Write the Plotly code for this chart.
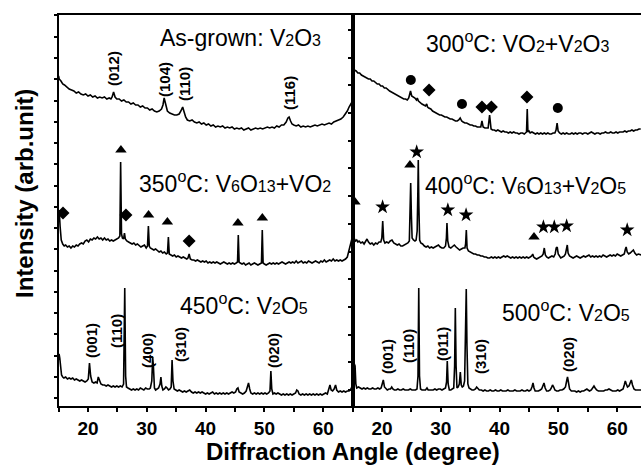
import plotly.graph_objects as go

# ---------------- data (2theta in degrees, intensity in arb. units) ----------------
asgrown = [(15.0,330),(15.1,327),(15.4,325),(15.7,322),(16.0,321),(16.4,319),(16.8,317),(17.2,316),(17.6,315),(18.0,313),(18.4,314),(18.8,312),(19.2,311),(19.6,312),(20.0,310),(20.4,311),(20.8,309),(21.2,310),(21.6,308),(22.0,309),(22.4,308),(22.8,309),(23.2,307),(23.6,308),(23.9,307),(24.1,309),(24.35,314),(24.6,309),(24.9,307),(25.3,307),(25.7,305),(26.1,306),(26.5,304),(26.9,304),(27.3,302),(27.7,303),(28.1,301),(28.5,301),(28.9,299),(29.3,300),(29.7,298),(30.1,298),(30.5,296),(30.9,297),(31.3,295),(31.7,294),(32.1,295),(32.5,297),(32.75,301),(32.95,308),(33.2,301),(33.5,295),(33.9,293),(34.3,292),(34.7,291),(35.1,291),(35.5,292),(35.8,295),(36.1,299),(36.3,295),(36.6,289),(36.9,286),(37.3,285),(37.7,286),(38.1,284),(38.5,283),(38.9,284),(39.3,282),(39.7,283),(40.1,281),(40.5,282),(40.9,280),(41.3,281),(41.7,279),(42.1,280),(42.5,279),(42.9,280),(43.3,278),(43.7,279),(44.1,278),(44.5,279),(44.9,277),(45.3,278),(45.7,277),(46.1,278),(46.5,276),(46.9,277),(47.3,278),(47.7,276),(48.1,277),(48.5,278),(48.9,277),(49.3,278),(49.7,277),(50.1,278),(50.5,279),(50.9,278),(51.3,279),(51.7,278),(52.1,280),(52.5,279),(52.9,281),(53.3,281),(53.7,284),(54.0,288),(54.2,289),(54.45,285),(54.7,282),(55.0,281),(55.4,280),(55.8,281),(56.2,279),(56.6,280),(57.0,279),(57.4,280),(57.8,279),(58.2,280),(58.6,281),(59.0,280),(59.4,281),(59.8,282),(60.2,281),(60.6,282),(61.0,283),(61.4,282),(61.8,284),(62.2,285),(62.6,286),(63.0,287),(63.4,289),(63.8,292),(64.1,295),(64.4,299),(64.7,302),(65.0,305)]

t300 = [(15.0,341),(15.05,338),(15.3,336),(15.6,335),(15.9,333),(16.2,333),(16.5,331),(16.8,330),(17.1,329),(17.4,328),(17.7,327),(18.0,327),(18.3,325),(18.6,325),(18.9,323),(19.2,322),(19.5,322),(19.8,320),(20.1,320),(20.4,318),(20.7,318),(21.0,316),(21.3,315),(21.6,314),(21.9,313),(22.2,312),(22.5,311),(22.8,310),(23.1,309),(23.4,308),(23.7,307),(24.0,307),(24.3,306),(24.55,308),(24.85,315),(25.05,310),(25.3,309),(25.6,308),(25.85,306),(26.0,308),(26.2,305),(26.5,303),(26.8,302),(27.1,301),(27.4,300),(27.6,302),(27.75,299),(27.95,298),(28.3,297),(28.6,295),(28.9,294),(29.2,293),(29.5,292),(29.8,291),(30.1,291),(30.4,290),(30.7,289),(31.0,289),(31.3,288),(31.6,287),(31.9,287),(32.2,286),(32.5,285),(32.8,285),(33.05,286),(33.3,288),(33.55,285),(33.8,284),(34.1,283),(34.4,283),(34.7,282),(35.0,281),(35.3,281),(35.6,280),(35.9,280),(36.2,279),(36.5,279),(36.8,279),(37.0,285),(37.2,279),(37.5,278),(37.8,278),(38.05,278),(38.3,291),(38.55,277),(38.8,276),(39.1,276),(39.4,275),(39.7,276),(40.0,275),(40.3,274),(40.6,275),(40.9,274),(41.2,274),(41.5,273),(41.8,274),(42.1,273),(42.4,274),(42.7,273),(43.0,273),(43.3,272),(43.6,273),(43.9,273),(44.2,272),(44.5,273),(44.58,274),(44.7,297),(44.82,274),(45.0,275),(45.2,273),(45.5,274),(45.8,273),(46.1,272),(46.4,273),(46.7,272),(47.0,273),(47.3,272),(47.6,273),(47.9,272),(48.2,273),(48.5,272),(48.8,272),(49.1,273),(49.4,273),(49.6,276),(49.78,283),(49.95,275),(50.2,273),(50.5,272),(50.8,273),(51.1,272),(51.4,273),(51.7,272),(52.0,272),(52.3,273),(52.6,272),(52.9,273),(53.2,272),(53.5,273),(53.8,273),(54.1,272),(54.4,273),(54.7,273),(55.0,272),(55.3,273),(55.6,274),(55.9,273),(56.2,272),(56.5,273),(56.8,273),(57.1,272),(57.4,273),(57.7,273),(58.0,274),(58.3,273),(58.6,273),(58.9,274),(59.2,273),(59.5,273),(59.8,274),(60.1,273),(60.4,274),(60.7,274),(61.0,274),(61.3,275),(61.6,274),(61.9,275),(62.2,275),(62.5,276),(62.8,275),(63.1,276),(63.4,276),(63.7,277),(64.0,277)]

t350 = [(15.0,192),(15.1,196),(15.25,180),(15.45,166),(15.7,162),(15.95,160),(16.2,161),(16.5,159),(16.8,160),(17.1,158),(17.4,160),(17.7,159),(18.0,161),(18.3,160),(18.6,162),(18.9,163),(19.2,162),(19.5,165),(19.8,166),(20.1,164),(20.4,167),(20.7,166),(21.0,168),(21.3,167),(21.6,169),(21.9,167),(22.2,168),(22.5,166),(22.8,168),(23.1,166),(23.4,167),(23.7,165),(24.0,166),(24.3,165),(24.6,166),(24.9,167),(25.2,168),(25.42,170),(25.55,244),(25.7,172),(25.85,168),(26.05,167),(26.2,173),(26.35,167),(26.6,165),(26.9,164),(27.2,163),(27.5,162),(27.8,163),(28.1,161),(28.4,162),(28.7,160),(29.0,159),(29.3,160),(29.6,161),(29.9,158),(30.12,160),(30.27,180),(30.42,160),(30.6,158),(30.9,157),(31.2,156),(31.5,157),(31.8,155),(32.1,154),(32.4,155),(32.7,153),(33.0,154),(33.3,152),(33.52,153),(33.67,169),(33.82,152),(34.1,151),(34.4,150),(34.7,151),(35.0,149),(35.3,150),(35.6,149),(35.9,148),(36.2,149),(36.5,148),(36.8,147),(37.0,148),(37.2,152),(37.4,147),(37.7,146),(38.0,146),(38.3,145),(38.6,146),(38.9,145),(39.2,144),(39.5,145),(39.8,144),(40.1,145),(40.4,143),(40.7,144),(41.0,143),(41.3,144),(41.6,143),(41.9,144),(42.2,143),(42.5,142),(42.8,143),(43.1,144),(43.4,143),(43.7,142),(44.0,143),(44.3,142),(44.6,143),(44.9,142),(45.2,143),(45.43,144),(45.56,171),(45.7,144),(45.9,143),(46.2,142),(46.5,143),(46.8,141),(47.1,142),(47.4,143),(47.7,141),(48.0,142),(48.3,143),(48.6,142),(48.9,141),(49.2,142),(49.5,143),(49.64,176),(49.78,143),(50.0,142),(50.3,141),(50.6,142),(50.9,143),(51.2,142),(51.5,143),(51.8,142),(52.1,143),(52.4,142),(52.7,143),(53.0,144),(53.3,143),(53.6,142),(53.9,143),(54.2,144),(54.5,143),(54.8,144),(55.1,143),(55.4,145),(55.7,143),(56.0,144),(56.3,145),(56.6,143),(56.9,144),(57.2,143),(57.5,145),(57.8,144),(58.1,143),(58.4,144),(58.7,145),(59.0,144),(59.3,143),(59.6,145),(59.9,144),(60.2,146),(60.5,144),(60.8,145),(61.1,146),(61.4,145),(61.7,147),(62.0,145),(62.3,146),(62.6,145),(62.9,146),(63.2,145),(63.5,146),(63.8,147),(64.1,149),(64.35,155),(64.6,163),(64.85,168),(65.0,170)]

t400 = [(15.0,180),(15.05,188),(15.15,176),(15.3,167),(15.5,165),(15.7,166),(15.9,164),(16.1,165),(16.4,163),(16.7,164),(16.95,162),(17.2,165),(17.45,167),(17.7,164),(18.0,162),(18.3,163),(18.6,161),(18.9,163),(19.2,162),(19.5,164),(19.8,164),(19.97,168),(20.12,185),(20.28,166),(20.5,163),(20.8,164),(21.1,163),(21.4,165),(21.7,166),(22.0,163),(22.3,162),(22.6,161),(22.9,162),(23.2,160),(23.5,160),(23.8,161),(24.1,162),(24.4,163),(24.65,165),(24.78,195),(24.88,223),(25.0,190),(25.12,168),(25.35,166),(25.6,165),(25.8,166),(25.98,175),(26.1,215),(26.17,246),(26.27,200),(26.4,166),(26.6,163),(26.9,162),(27.2,160),(27.5,159),(27.8,160),(28.1,158),(28.4,159),(28.7,158),(29.0,159),(29.3,160),(29.6,161),(29.9,159),(30.2,158),(30.5,158),(30.8,160),(30.95,168),(31.05,183),(31.18,165),(31.4,159),(31.7,158),(32.0,160),(32.3,161),(32.6,159),(32.9,157),(33.2,156),(33.5,157),(33.8,158),(34.1,158),(34.22,162),(34.34,176),(34.47,158),(34.7,155),(35.0,154),(35.3,153),(35.6,152),(35.9,152),(36.2,151),(36.5,151),(36.8,150),(37.1,150),(37.4,149),(37.7,149),(38.0,148),(38.3,148),(38.6,149),(38.9,148),(39.2,149),(39.5,148),(39.8,149),(40.1,148),(40.4,149),(40.7,150),(41.0,149),(41.3,150),(41.6,149),(41.9,148),(42.2,149),(42.5,148),(42.8,149),(43.1,148),(43.4,149),(43.7,148),(44.0,149),(44.3,148),(44.6,149),(44.9,148),(45.2,149),(45.45,150),(45.63,152),(45.8,149),(46.0,148),(46.3,147),(46.6,148),(46.9,149),(47.2,150),(47.42,152),(47.6,158),(47.78,151),(48.0,149),(48.3,148),(48.6,149),(48.9,150),(49.2,149),(49.45,152),(49.63,158),(49.8,159),(49.97,152),(50.2,149),(50.4,148),(50.7,149),(51.0,150),(51.2,152),(51.4,160),(51.51,161),(51.65,153),(51.9,150),(52.2,149),(52.5,148),(52.8,149),(53.1,150),(53.4,149),(53.7,148),(54.0,149),(54.3,150),(54.6,149),(54.9,150),(55.2,151),(55.5,149),(55.8,150),(56.1,149),(56.4,150),(56.7,149),(57.0,150),(57.3,149),(57.6,151),(57.9,150),(58.2,149),(58.5,150),(58.8,151),(59.1,150),(59.4,151),(59.7,150),(60.0,152),(60.3,151),(60.6,150),(60.9,151),(61.2,152),(61.4,157),(61.52,159),(61.7,154),(61.95,152),(62.2,153),(62.5,155),(62.75,156),(63.0,153),(63.3,151),(63.6,152),(63.9,151),(64.1,151)]

t450 = [(15.0,46),(15.08,52),(15.2,48),(15.35,38),(15.5,31),(15.7,29),(15.9,28),(16.2,29),(16.5,27),(16.8,28),(17.1,27),(17.4,28),(17.7,26),(18.0,27),(18.3,26),(18.6,25),(18.9,26),(19.2,25),(19.5,24),(19.8,25),(20.05,27),(20.25,43),(20.45,30),(20.7,24),(21.0,23),(21.3,24),(21.55,23),(21.75,29),(21.95,25),(22.2,22),(22.5,21),(22.8,21),(23.1,20),(23.4,21),(23.7,20),(24.0,19),(24.3,20),(24.6,19),(24.9,20),(25.2,19),(25.5,20),(25.8,19),(26.05,22),(26.25,118),(26.4,30),(26.55,19),(26.8,18),(27.1,17),(27.4,16),(27.7,17),(28.0,16),(28.3,17),(28.6,16),(28.9,18),(29.2,17),(29.5,16),(29.8,18),(30.1,17),(30.4,17),(30.6,18),(30.85,25),(31.0,49),(31.12,40),(31.3,18),(31.5,16),(31.8,17),(32.0,18),(32.25,22),(32.4,29),(32.55,20),(32.75,16),(33.0,17),(33.25,19),(33.45,18),(33.7,16),(33.95,17),(34.15,19),(34.3,46),(34.45,25),(34.65,17),(34.9,16),(35.2,15),(35.5,16),(35.8,15),(36.1,14),(36.4,15),(36.7,14),(37.0,15),(37.3,16),(37.6,14),(37.9,13),(38.2,14),(38.5,13),(38.8,14),(39.1,13),(39.4,14),(39.7,13),(40.0,12),(40.3,13),(40.6,12),(40.9,13),(41.2,14),(41.5,12),(41.8,13),(42.1,12),(42.4,13),(42.7,12),(43.0,13),(43.3,12),(43.6,13),(43.9,12),(44.2,13),(44.5,14),(44.8,13),(45.1,14),(45.3,17),(45.5,18),(45.7,14),(46.0,13),(46.3,12),(46.6,13),(46.9,15),(47.1,19),(47.3,23),(47.5,17),(47.7,13),(48.0,12),(48.3,13),(48.6,12),(48.9,13),(49.2,12),(49.5,13),(49.8,12),(50.1,13),(50.4,12),(50.7,13),(50.95,15),(51.1,35),(51.25,17),(51.45,12),(51.7,13),(52.0,12),(52.3,13),(52.6,12),(52.9,11),(53.2,12),(53.5,11),(53.8,12),(54.1,11),(54.4,12),(54.7,11),(55.0,12),(55.3,13),(55.5,16),(55.7,15),(55.9,12),(56.2,11),(56.5,12),(56.8,11),(57.1,12),(57.4,11),(57.7,12),(58.0,11),(58.3,12),(58.6,11),(58.9,12),(59.2,11),(59.5,12),(59.8,11),(60.1,12),(60.4,13),(60.7,12),(60.95,16),(61.15,21),(61.35,16),(61.6,15),(61.85,17),(62.1,21),(62.3,16),(62.6,14),(62.9,15),(63.2,14),(63.5,15),(63.8,14),(64.1,15),(64.4,15),(64.7,17),(64.9,19),(65.0,20)]

t500 = [(15.0,20),(15.08,42),(15.15,44),(15.3,42),(15.42,40),(15.55,22),(15.7,18),(16.0,19),(16.3,18),(16.6,17),(16.9,18),(17.2,17),(17.5,18),(17.8,17),(18.1,17),(18.4,18),(18.7,17),(19.0,17),(19.3,18),(19.6,17),(19.85,18),(20.05,22),(20.22,26),(20.42,19),(20.65,17),(20.9,16),(21.2,17),(21.45,17),(21.65,19),(21.85,17),(22.1,16),(22.4,16),(22.7,17),(23.0,16),(23.3,16),(23.6,17),(23.9,16),(24.2,16),(24.5,16),(24.8,17),(25.1,16),(25.4,16),(25.7,16),(25.95,17),(26.12,30),(26.25,118),(26.38,30),(26.55,17),(26.8,16),(27.1,16),(27.4,16),(27.65,18),(27.85,16),(28.1,16),(28.4,16),(28.7,16),(29.0,17),(29.3,16),(29.6,17),(29.9,17),(30.2,16),(30.5,17),(30.8,18),(30.98,24),(31.1,45),(31.25,22),(31.45,16),(31.7,16),(31.95,17),(32.2,18),(32.35,40),(32.47,98),(32.6,40),(32.75,18),(32.95,19),(33.15,22),(33.32,34),(33.48,21),(33.65,19),(33.85,20),(34.05,25),(34.2,60),(34.33,117),(34.45,60),(34.6,22),(34.8,18),(35.0,17),(35.3,16),(35.6,16),(35.9,17),(36.1,19),(36.3,18),(36.55,16),(36.9,16),(37.2,15),(37.5,16),(37.8,15),(38.1,15),(38.4,16),(38.7,15),(39.0,15),(39.3,16),(39.6,15),(39.9,15),(40.2,16),(40.5,15),(40.8,15),(41.1,15),(41.4,16),(41.7,15),(42.0,15),(42.3,15),(42.6,16),(42.9,15),(43.2,15),(43.5,15),(43.8,16),(44.1,15),(44.4,15),(44.7,16),(45.0,15),(45.3,16),(45.5,19),(45.68,23),(45.85,18),(46.05,15),(46.3,15),(46.6,15),(46.9,16),(47.15,17),(47.35,20),(47.55,23),(47.75,18),(48.0,15),(48.3,15),(48.6,16),(48.8,18),(49.0,21),(49.2,19),(49.4,16),(49.7,15),(50.0,15),(50.3,16),(50.6,16),(50.9,17),(51.2,19),(51.4,25),(51.55,29),(51.7,24),(51.9,17),(52.2,15),(52.5,15),(52.8,15),(53.1,14),(53.4,15),(53.7,14),(54.0,15),(54.3,15),(54.6,16),(54.85,17),(55.05,16),(55.3,15),(55.6,16),(55.85,18),(56.05,20),(56.25,18),(56.5,16),(56.8,15),(57.1,15),(57.4,15),(57.7,15),(58.0,16),(58.3,16),(58.6,17),(58.9,16),(59.2,15),(59.5,15),(59.8,15),(60.1,16),(60.4,15),(60.7,16),(61.0,17),(61.2,21),(61.38,25),(61.55,22),(61.75,19),(62.0,20),(62.2,24),(62.4,26),(62.6,21),(62.85,17),(63.1,16),(63.4,16),(63.7,16),(64.0,16),(64.1,16)]

# phase markers (peak angle, marker height)
tri_L_x = [25.6, 30.3, 33.5, 45.5, 49.65]
tri_L_y = [256, 191, 184, 183, 188]
dia_L_x = [15.75, 26.45, 37.2]
dia_L_y = [193, 191, 165]
circ_R_x = [24.9, 33.6, 49.9]
circ_R_y = [326, 302, 298]
dia_R_x = [28.0, 37.0, 38.6, 44.65]
dia_R_y = [316, 299, 299, 309]
tri_R_x = [15.4, 24.75, 45.85]
tri_R_y = [204, 241, 169]
star_R_x = [20.1, 25.9, 31.2, 34.3, 47.45, 49.3, 51.4, 61.7]
star_R_y = [199, 254, 196, 191, 179, 179, 180, 176]

# Miller indices
hkl_LT = ["(012)", "(104)", "(110)", "(116)"]
hkl_LT_x = [24.27, 32.93, 36.33, 54.18]
hkl_LT_y = [337, 326, 322, 313]
hkl_LB = ["(001)", "(110)", "(400)", "(310)", "(020)"]
hkl_LB_x = [20.51, 24.76, 30.03, 35.65, 51.46]
hkl_LB_y = [65, 75, 56, 61, 56]
hkl_RB = ["(001)", "(110)", "(011)", "(310)", "(020)"]
hkl_RB_x = [20.85, 24.42, 30.2, 36.67, 51.63]
hkl_RB_y = [49, 60, 62, 49, 52]

x_tickvals = [20, 30, 40, 50, 60]
x_ticktext = ["20", "30", "40", "50", "60"]

def sb(s):
    return '<span style="font-size:16px">' + s + '</span>'

DEG = "<sup>o</sup>"
titles = [
    ("As-grown: V" + sb("2") + "O" + sb("3"), "L", 46.0, 368, "center"),
    ("300" + DEG + "C: VO" + sb("2") + "+V" + sb("2") + "O" + sb("3"), "R", 43.0, 364, "center"),
    ("350" + DEG + "C: V" + sb("6") + "O" + sb("13") + "+VO" + sb("2"), "L", 45.0, 224, "center"),
    ("400" + DEG + "C: V" + sb("6") + "O" + sb("13") + "+V" + sb("2") + "O" + sb("5"), "R", 26.97, 222, "left"),
    ("450" + DEG + "C: V" + sb("2") + "O" + sb("5"), "L", 46.5, 102, "center"),
    ("500" + DEG + "C: V" + sb("2") + "O" + sb("5"), "R", 51.3, 95, "center"),
]

# ---------------- figure ----------------
W, H = 641, 466
FONT = "Liberation Sans, Arial, sans-serif"
fig = go.Figure()

def curve(pts, side):
    xs = [p[0] for p in pts]
    ys = [p[1] for p in pts]
    xa, ya = ("x", "y") if side == "L" else ("x2", "y2")
    fig.add_trace(go.Scatter(x=xs, y=ys, mode="lines", xaxis=xa, yaxis=ya,
                             line=dict(color="black", width=1.6), showlegend=False,
                             hoverinfo="skip"))

curve(asgrown, "L"); curve(t350, "L"); curve(t450, "L")
curve(t300, "R"); curve(t400, "R"); curve(t500, "R")

def marks(xs, ys, side, symbol, size):
    xa, ya = ("x", "y") if side == "L" else ("x2", "y2")
    fig.add_trace(go.Scatter(x=xs, y=ys, mode="markers", xaxis=xa, yaxis=ya,
                             marker=dict(symbol=symbol, size=size, color="black",
                                         line=dict(width=0)),
                             showlegend=False, hoverinfo="skip"))

marks(tri_L_x, tri_L_y, "L", "triangle-up", 10)
marks(dia_L_x, dia_L_y, "L", "diamond", 10)
marks(circ_R_x, circ_R_y, "R", "circle", 10)
marks(dia_R_x, dia_R_y, "R", "diamond", 10)
marks(tri_R_x, tri_R_y, "R", "triangle-up", 10)
marks(star_R_x, star_R_y, "R", "star", 11)

ann = []
for txt, side, x, y, anc in titles:
    ann.append(dict(text=txt, x=x, y=y, xref="x" if side == "L" else "x2",
                    yref="y" if side == "L" else "y2", showarrow=False,
                    xanchor=anc, yanchor="middle",
                    font=dict(family=FONT, size=23, color="black")))

def hkl(labels, xs, ys, side):
    for t, x, y in zip(labels, xs, ys):
        ann.append(dict(text=t, x=x, y=y, xref="x" if side == "L" else "x2",
                        yref="y" if side == "L" else "y2", showarrow=False,
                        textangle=-90, xanchor="center", yanchor="middle",
                        font=dict(family=FONT, size=15, color="black", weight="bold")))

hkl(hkl_LT, hkl_LT_x, hkl_LT_y, "L")
hkl(hkl_LB, hkl_LB_x, hkl_LB_y, "L")
hkl(hkl_RB, hkl_RB_x, hkl_RB_y, "R")

ann.append(dict(text="Diffraction Angle (degree)", x=353 / W, y=1 - 451 / H,
                xref="paper", yref="paper", showarrow=False, xanchor="center", yanchor="middle",
                font=dict(family=FONT, size=24, color="black", weight="bold")))
ann.append(dict(text="Intensity (arb.unit)", x=24 / W, y=1 - 194 / H, textangle=-90,
                xref="paper", yref="paper", showarrow=False, xanchor="center", yanchor="middle",
                font=dict(family=FONT, size=24, color="black", weight="bold")))

xL0, xD, ytop, ybot = 58.6 / W, 352.6 / W, 1 - 15 / H, 1 - 406 / H
px_per_deg = 5.88
x2_max = 15 + (W - 352.6) / px_per_deg

common_x = dict(showline=True, linewidth=2, linecolor="black", mirror=True,
                ticks="outside", ticklen=4, tickwidth=1.5, tickcolor="black",
                tickmode="array", tickvals=x_tickvals, ticktext=x_ticktext,
                minor=dict(tickmode="linear", tick0=15, dtick=5, ticks="outside",
                           ticklen=4, tickwidth=1.5, tickcolor="black", showgrid=False),
                tickfont=dict(family=FONT, size=19, color="black", weight="bold"),
                showgrid=False, zeroline=False, fixedrange=True)
common_y = dict(showline=True, linewidth=2, linecolor="black",
                ticks="outside", ticklen=3, tickwidth=1.5, tickcolor="black",
                showticklabels=False, showgrid=False, zeroline=False,
                range=[0, 391], domain=[ybot, ytop], fixedrange=True)

fig.update_layout(
    width=W, height=H, margin=dict(l=0, r=0, t=0, b=0),
    paper_bgcolor="white", plot_bgcolor="white",
    xaxis=dict(domain=[xL0, xD], range=[15, 65], anchor="y", **common_x),
    yaxis=dict(anchor="x", mirror=True, tick0=7.7, dtick=21.27, **common_y),
    xaxis2=dict(domain=[xD, 1.0], range=[15, x2_max], anchor="y2", **common_x),
    yaxis2=dict(anchor="x2", mirror=False, tick0=16, dtick=27.7, **common_y),
    annotations=ann,
    showlegend=False,
)

fig.write_html("out.html")
